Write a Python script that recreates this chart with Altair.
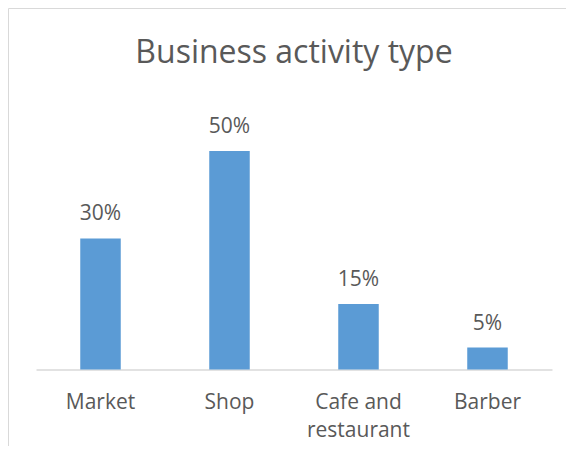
import altair as alt
import pandas as pd

categories = ["Market", "Shop", "Cafe and restaurant", "Barber"]
values = [30, 50, 15, 5]
labels = ["30%", "50%", "15%", "5%"]

df = pd.DataFrame({"category": categories, "value": values, "label": labels})

W, H = 516, 262
FONT = "Open Sans"
GREY = "#595959"
LINE = "#D9D9D9"

x = alt.X(
    "category:N",
    sort=categories,
    title="",
    scale=alt.Scale(paddingInner=0.686, paddingOuter=0.343),
    axis=alt.Axis(
        labelAngle=0,
        ticks=False,
        labelFont=FONT,
        labelFontSize=21,
        labelColor=GREY,
        labelPadding=39,
        labelBaseline="alphabetic",
        labelLineHeight=28,
        domainColor=LINE,
        domainWidth=1.5,
        labelExpr="datum.label == 'Cafe and restaurant' ? ['Cafe and', 'restaurant'] : datum.label",
    ),
)
y = alt.Y("value:Q", scale=alt.Scale(domain=[0, 60]), axis=None)

frame = alt.Chart(pd.DataFrame({"f": [0]})).mark_rect(
    filled=False, stroke=LINE, strokeWidth=1
).encode(
    x=alt.value(-27.5), x2=alt.value(700), y=alt.value(-98.9), y2=alt.value(700)
)

base = alt.Chart(df)
bars = base.mark_bar(color="#5B9BD5").encode(x=x, y=y)
text = base.mark_text(
    dy=-18, baseline="alphabetic", font=FONT, fontSize=21, color=GREY
).encode(x=x, y=y, text="label:N")

chart = (
    alt.layer(frame, bars, text)
    .properties(
        width=W,
        height=H,
        title=alt.TitleParams(
            "Business activity type",
            font=FONT,
            fontSize=32,
            fontWeight="normal",
            color=GREY,
            anchor="middle",
            frame="group",
            baseline="alphabetic",
            offset=-87.5,
        ),
        autosize=alt.AutoSizeParams(type="none"),
        padding={"left": 28, "top": 99.4, "right": 14, "bottom": 77},
        background="white",
    )
    .configure_view(strokeWidth=0)
)

chart.save("out.html", embed_options={"renderer": "svg", "actions": False})
